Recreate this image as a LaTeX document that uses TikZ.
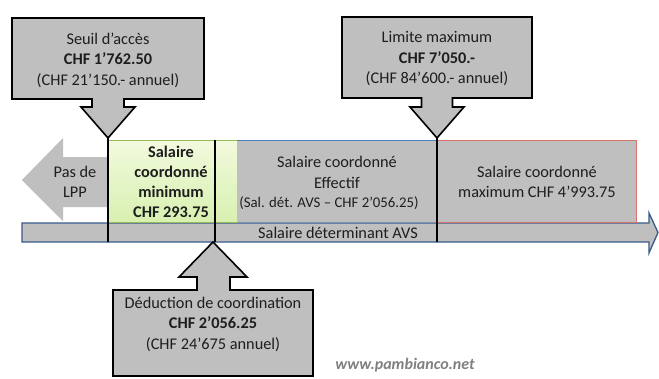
\documentclass[tikz,border=0pt]{standalone}
\usepackage{fontspec}
\setmainfont{Carlito}
\definecolor{boxgrey}{RGB}{191,191,191}
\definecolor{barblue}{RGB}{56,93,138}
\definecolor{edgeblue}{RGB}{79,129,189}
\definecolor{edgered}{RGB}{217,116,111}
\definecolor{greenedge}{RGB}{155,187,89}
\definecolor{greentop}{RGB}{242,250,222}
\definecolor{greenbot}{RGB}{216,240,176}
\definecolor{wmgrey}{RGB}{128,128,128}
\definecolor{txtdark}{RGB}{30,30,30}
\begin{document}
\begin{tikzpicture}[x=1pt,y=-1pt,
  txt/.style={align=center,font=\fontsize{16.3}{20.5}\selectfont,inner sep=0pt,text=txtdark},
  callout/.style={fill=boxgrey,draw=black,line width=1.6pt,line join=miter},
  vline/.style={draw=black,line width=2pt}]
\useasboundingbox (0,0) rectangle (659,378);
\fill[white] (0,0) rectangle (659,378);
% left arrow "Pas de LPP"
\fill[boxgrey] (22,180) -- (63,138) -- (63,157) -- (110,157) -- (110,207) -- (63,207) -- (63,221) -- cycle;
\node[txt] (nolpp) at (75,182) {Pas de\\LPP};
% bottom bar arrow
\draw[fill=boxgrey,draw=barblue,line width=1.3pt,line join=miter]
  (22,223) -- (649,223) -- (649,213) -- (658,232.5) -- (649,253) -- (649,242) -- (22,242) -- cycle;
\node[txt] (avs) at (338,233) {Salaire déterminant AVS};
% green box
\shade[top color=greentop,bottom color=greenbot] (108,140) rectangle (237,222);
\draw[greenedge,line width=0.8pt] (108,140) rectangle (237,222);
\node[txt,font=\fontsize{16.3}{20}\selectfont\bfseries] (min) at (171,182) {Salaire\\coordonné\\minimum\\CHF 293.75};
% middle box
\fill[boxgrey] (237.4,140) rectangle (437,222);
\draw[edgeblue,line width=0.8pt] (237,140) -- (437,140);
\node[txt] (eff) at (337,172.5) {Salaire coordonné\\Effectif};
\node[txt,font=\fontsize{14.8}{17}\selectfont] (effsub) at (329,203) {(Sal. dét. AVS – CHF 2’056.25)};
% right box
\draw[fill=boxgrey,draw=edgered,line width=0.8pt] (437,140) rectangle (636,222);
\node[txt] (max) at (537,182) {Salaire coordonné\\maximum CHF 4’993.75};
% vertical marks
\draw[vline] (108,138) -- (108,242);
\draw[vline] (215,140) -- (215,242);
\draw[vline] (437,138) -- (437,242);
% top-left callout
\draw[callout] (12,18) -- (204,18) -- (204,99) -- (124,99) -- (124,107) -- (135,107) -- (108,138)
  -- (81,107) -- (92,107) -- (92,99) -- (12,99) -- cycle;
\node[txt] (seuil) at (108,60) {Seuil d’accès\\\textbf{CHF 1’762.50}\\(CHF 21’150.- annuel)};
% top-right callout
\draw[callout] (342,17) -- (532,17) -- (532,98) -- (452.5,98) -- (452.5,107) -- (464,107) -- (437,138)
  -- (410,107) -- (421.5,107) -- (421.5,98) -- (342,98) -- cycle;
\node[txt] (limite) at (437,59) {Limite maximum\\\textbf{CHF 7’050.-}\\(CHF 84’600.- annuel)};
% bottom callout
\draw[callout] (213,242) -- (247,277) -- (230,277) -- (230,290) -- (313,290) -- (313,376)
  -- (113,376) -- (113,290) -- (197,290) -- (197,277) -- (179,277) -- cycle;
\node[txt] (deduc) at (213,324) {Déduction de coordination\\\textbf{CHF 2’056.25}\\(CHF 24’675 annuel)};
% watermark
\node[font=\fontsize{16}{18}\selectfont\bfseries\itshape,text=wmgrey,inner sep=0pt] (wm) at (405,365) {www.pambianco.net};
\end{tikzpicture}
\end{document}
